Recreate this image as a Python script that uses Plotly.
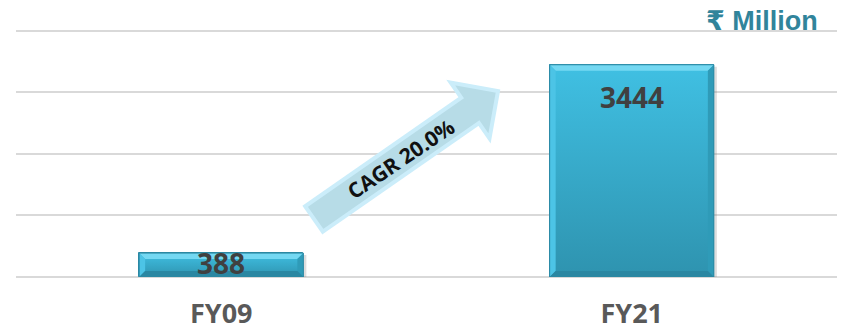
import plotly.graph_objects as go

# Revenue figures (₹ Million)
categories = ["FY09", "FY21"]
values = [388, 3444]
value_labels = ["388", "3444"]
cagr_label = "CAGR 20.0%"
unit_label = "₹ Million"

W, H = 842, 332
ML, MR, MT, MB = 16, 5, 29, 55
PW, PH = W - ML - MR, H - MT - MB
Y_TOP = 4000
Y_MAX = Y_TOP * PH / (PH - 1.5)   # headroom so the top gridline shows
BAR_W = 0.4
X_RANGE = (-0.5, len(categories) - 0.5)

# pixel size in data units, used for bevel widths
px_x = (X_RANGE[1] - X_RANGE[0]) / PW
px_y = Y_MAX / PH

fig = go.Figure()

# base bars
fig.add_trace(go.Bar(
    x=list(range(len(categories))), y=values, width=BAR_W,
    marker=dict(color="#35a9c9", line=dict(color="#2b88a3", width=1)),
    hoverinfo="skip", showlegend=False,
))


def poly(xs, ys, **kw):
    fig.add_trace(go.Scatter(
        x=xs + [xs[0]], y=ys + [ys[0]], mode="lines", fill="toself",
        line=dict(width=0), hoverinfo="skip", showlegend=False, **kw))


bev = 6
for i, v in enumerate(values):
    x0, x1 = i - BAR_W / 2, i + BAR_W / 2
    bx, by = bev * px_x, min(bev * px_y, v / 4)
    # soft shadow
    poly([x0 + 2 * px_x, x1 + 3 * px_x, x1 + 3 * px_x, x0 + 2 * px_x],
         [-3 * px_y, -3 * px_y, v - 2 * px_y, v - 2 * px_y],
         fillcolor="rgba(120,120,120,0.25)")
    # body with vertical gradient
    poly([x0, x1, x1, x0], [0, 0, v, v],
         fillgradient=dict(type="vertical",
                           colorscale=[[0, "#2e93af"], [1, "#40c0e3"]]))
    # bevel facets
    poly([x0, x1, x1 - bx, x0 + bx], [v, v, v - by, v - by], fillcolor="#74d8f2")
    poly([x0, x0 + bx, x0 + bx, x0], [v, v - by, by, 0], fillcolor="#4cc4e6")
    poly([x1, x1 - bx, x1 - bx, x1], [v, v - by, by, 0], fillcolor="#2f9bb8")
    poly([x0, x1, x1 - bx, x0 + bx], [0, 0, by, by], fillcolor="#2a87a2")
    # outline
    fig.add_trace(go.Scatter(
        x=[x0, x1, x1, x0, x0], y=[0, 0, v, v, 0], mode="lines",
        line=dict(color="#2b88a3", width=1), hoverinfo="skip", showlegend=False))

# value labels
label_shift = [11, -11]
for i, (v, t) in enumerate(zip(values, value_labels)):
    fig.add_annotation(
        x=i, y=v, text=t, showarrow=False, yanchor="top",
        yshift=label_shift[i],
        font=dict(family="Open Sans", size=28, color="#404040", weight=700))


# block arrow for the growth rate, laid out in pixel space
def to_paper(px, py):
    return (px - ML) / PW, (MT + PH - py) / PH


tail = (314, 219)
tip = (498, 91)
dx, dy = tip[0] - tail[0], tip[1] - tail[1]
L = (dx * dx + dy * dy) ** 0.5
ux, uy = dx / L, dy / L
nx, ny = -uy, ux
half_shaft, half_head, head_len = 15.5, 34, 34
base = (tip[0] - ux * head_len, tip[1] - uy * head_len)
pts = [
    (tail[0] + nx * half_shaft, tail[1] + ny * half_shaft),
    (base[0] + nx * half_shaft, base[1] + ny * half_shaft),
    (base[0] + nx * half_head, base[1] + ny * half_head),
    tip,
    (base[0] - nx * half_head, base[1] - ny * half_head),
    (base[0] - nx * half_shaft, base[1] - ny * half_shaft),
    (tail[0] - nx * half_shaft, tail[1] - ny * half_shaft),
]
ppts = [to_paper(*p) for p in pts]
path = "M " + " L ".join(f"{x:.5f},{y:.5f}" for x, y in ppts) + " Z"
fig.add_shape(type="path", path=path, xref="paper", yref="paper",
              fillcolor="#b7dce7", line=dict(color="#cbedfa", width=4),
              layer="above")

mid = to_paper(tail[0] + dx * 0.47, tail[1] + dy * 0.47)
fig.add_annotation(
    x=mid[0], y=mid[1], xref="paper", yref="paper", text=cagr_label,
    showarrow=False, textangle=-34,
    font=dict(family="Open Sans", size=21, color="#111111", weight=700))

# unit caption
fig.add_annotation(
    x=(820 - ML) / PW, y=(MT + PH - 21) / PH, xref="paper", yref="paper",
    xanchor="right", yanchor="middle", text=unit_label,
    showarrow=False,
    font=dict(family="Liberation Sans, DejaVu Sans", size=27, color="#31849b",
              weight=700))

fig.update_layout(
    width=W, height=H, margin=dict(l=ML, r=MR, t=MT, b=MB, autoexpand=False),
    paper_bgcolor="white", plot_bgcolor="white", bargap=0,
    xaxis=dict(range=list(X_RANGE), tickvals=list(range(len(categories))),
               ticktext=categories,
               tickfont=dict(family="Open Sans", size=27, color="#595959",
                             weight=700),
               showgrid=False, zeroline=False, showline=False, ticks="",
               ticklabelstandoff=18, automargin=False, fixedrange=True),
    yaxis=dict(range=[0, Y_MAX], tickvals=[1000, 2000, 3000, Y_TOP],
               showticklabels=False, automargin=False,
               gridcolor="#d9d9d9", gridwidth=2, zeroline=True,
               zerolinecolor="#d9d9d9", zerolinewidth=2, showline=False,
               ticks="", fixedrange=True),
)

fig.write_html("out.html")
